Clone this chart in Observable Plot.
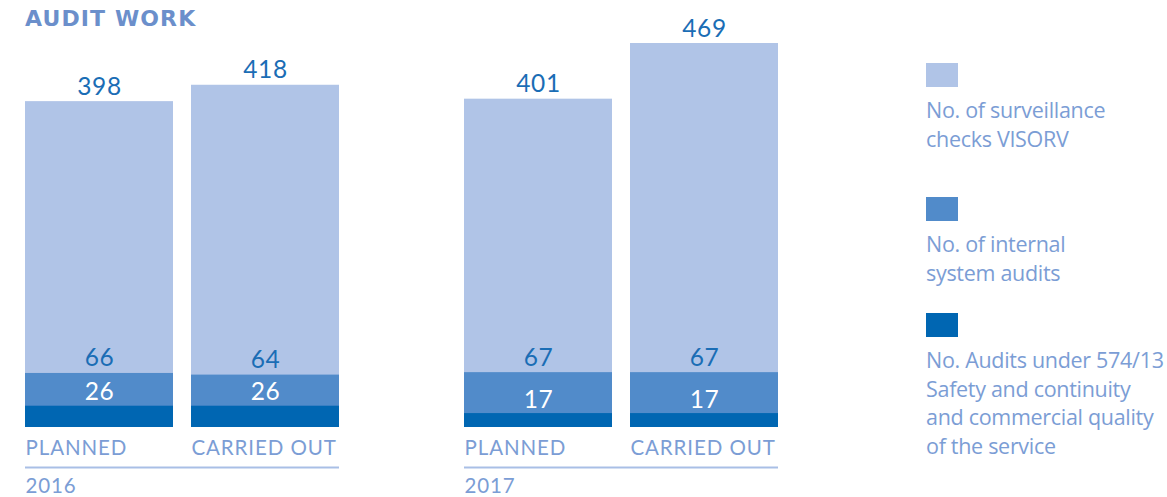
<!DOCTYPE html>
<html>
<head>
<meta charset="utf-8">
<script src="https://cdn.jsdelivr.net/npm/d3@7"></script>
<script src="https://cdn.jsdelivr.net/npm/@observablehq/plot@0.6"></script>
<style>
  html, body { margin: 0; padding: 0; background: #fff; }
  #wrap { position: relative; width: 1167px; height: 497px; overflow: hidden; }
  #title { position: absolute; left: 25px; top: 6px; font-family: "DejaVu Sans", sans-serif; font-weight: 700; font-size: 22px; line-height: 26px; color: #6b8fcb; letter-spacing: 1.1px; }
  #chart { position: absolute; left: 0; top: 0; }
  .lg-item { position: absolute; left: 926px; }
  .lg-sq { width: 32px; height: 24px; }
  .lg-txt { margin-top: 9px; font-family: "Open Sans", sans-serif; font-size: 21.5px; line-height: 28.5px; color: #7b9dd5; white-space: pre-line; letter-spacing: -0.3px; }
</style>
</head>
<body>
<div id="wrap">
  <div id="chart"></div>
  <div id="title"></div>
  <div id="legend"></div>
</div>
<script>
// ---- data ----
const titleText = "AUDIT WORK";
const years = ["2016", "2017"];
const phases = ["PLANNED", "CARRIED OUT"];
const barYears = ["2016", "2016", "2017", "2017"];
const barPhases = ["PLANNED", "CARRIED OUT", "PLANNED", "CARRIED OUT"];
const surveillance = [398, 418, 401, 469];
const internalAudits = [66, 64, 67, 67];
const audits574 = [26, 26, 17, 17];
const seriesLabels = [
  "No. of surveillance\nchecks VISORV",
  "No. of internal\nsystem audits",
  "No. Audits under 574/13\nSafety and continuity\nand commercial quality\nof the service"
];
const seriesColors = ["#b0c4e7", "#518bca", "#0066b2"];

// ---- build rows ----
const rows = barYears.map((y, i) => ({
  year: y, phase: barPhases[i],
  surveillance: surveillance[i], internal: internalAudits[i], a574: audits574[i]
}));

const valueColor = "#1a6db5";
const labelColor = "#7b9dd5";
const numFont = "Lato, sans-serif";

const plot = Plot.plot({
  width: 1167,
  height: 497,
  marginLeft: 25,
  marginRight: 389,
  marginTop: 43,
  marginBottom: 70,
  style: { fontFamily: numFont, overflow: "visible", background: "transparent" },
  fx: { domain: years, paddingInner: 125 / 439, paddingOuter: 0, axis: null, label: null },
  x: { domain: phases, paddingInner: 18 / 166, paddingOuter: 0, axis: null, label: null },
  y: { domain: [0, 469], axis: null, label: null },
  marks: [
    Plot.barY(rows, { fx: "year", x: "phase", y: "surveillance", fill: seriesColors[0], inset: 0 }),
    Plot.barY(rows, { fx: "year", x: "phase", y: "internal", fill: seriesColors[1], inset: 0 }),
    Plot.barY(rows, { fx: "year", x: "phase", y: "a574", fill: seriesColors[2], inset: 0 }),
    Plot.text(rows, { fx: "year", x: "phase", y: "surveillance", text: d => String(d.surveillance), dy: -7, lineAnchor: "bottom", fill: valueColor, fontSize: 24.5 }),
    Plot.text(rows, { fx: "year", x: "phase", y: "internal", text: d => String(d.internal), dy: -7, lineAnchor: "bottom", fill: valueColor, fontSize: 24.5 }),
    Plot.text(rows, { fx: "year", x: "phase", y: "a574", text: d => String(d.a574), dy: -6, lineAnchor: "bottom", fill: "#ffffff", fontSize: 24.5 }),
    Plot.text(rows, { fx: "year", x: "phase", y: () => 0, text: "phase", dx: -74, dy: 27, textAnchor: "start", lineAnchor: "bottom", fill: labelColor, fontSize: 20.5 }),
    Plot.ruleY(years, { fx: d => d, y: () => 0, dy: 40, stroke: "#a9bfe6", strokeWidth: 2 }),
    Plot.text(years, { fx: d => d, text: d => d, frameAnchor: "bottom-left", textAnchor: "start", lineAnchor: "bottom", dy: 65, fill: labelColor, fontSize: 20.5 })
  ]
});
// letter spacing of value and label texts, as in the reference lettering
plot.querySelectorAll("text").forEach(t => {
  const s = t.textContent;
  if (/^[A-Z ]+$/.test(s) || /^20\d\d$/.test(s)) t.setAttribute("letter-spacing", "0.9");
  else if (/^\d+$/.test(s)) t.setAttribute("letter-spacing", "0.6");
});
document.getElementById("chart").appendChild(plot);
document.getElementById("title").textContent = titleText;

// ---- legend ----
const legendTops = [63, 197, 313];
const legend = document.getElementById("legend");
seriesLabels.forEach((lab, i) => {
  const item = document.createElement("div");
  item.className = "lg-item";
  item.style.top = legendTops[i] + "px";
  const sq = document.createElement("div");
  sq.className = "lg-sq";
  sq.style.background = seriesColors[i];
  const tx = document.createElement("div");
  tx.className = "lg-txt";
  tx.textContent = lab;
  item.appendChild(sq);
  item.appendChild(tx);
  legend.appendChild(item);
});
</script>
</body>
</html>
